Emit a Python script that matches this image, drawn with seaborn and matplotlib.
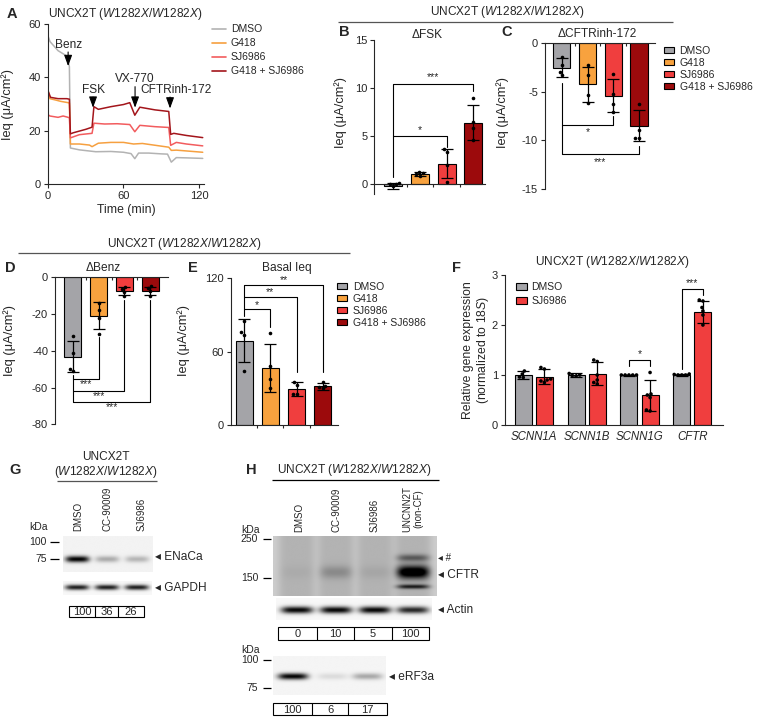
import numpy as np
import pandas as pd
import matplotlib.pyplot as plt
import seaborn as sns
from matplotlib.lines import Line2D
from matplotlib.patches import Patch, Rectangle

W, H = 757, 726

# ---------------- data ----------------
groups = ["DMSO", "G418", "SJ6986", "G418 + SJ6986"]
bar_colors = ["#a4a4a8", "#f8a23e", "#f03e3e", "#9c0a0c"]
line_colors = ["#b3b3b3", "#f6a040", "#f25c5e", "#a3151b"]

# A: Ussing chamber traces (time in min, Ieq in uA/cm2)
t_dmso = [0, 1.6, 8, 13.5, 15.5, 17, 17.8, 25, 38, 50, 60, 66, 69, 72, 80, 90, 95, 98, 102, 110, 123]
i_dmso = [55.5, 53.4, 50, 48.4, 47, 44, 13.5, 12.8, 12.1, 12.2, 11.9, 11.4, 9.5, 11.6, 11.6, 11.3, 11.2, 8.2, 9.9, 9.8, 9.6]
t_g418 = [0, 1.5, 6, 10, 16, 17, 17.8, 25, 33, 35, 40, 50, 60, 68, 75, 90, 96, 98, 102, 123]
i_g418 = [35, 32, 31.5, 31, 30.5, 30.3, 15, 15, 14.6, 14, 15.3, 15.6, 15.6, 15, 15.2, 14.2, 13.8, 12.6, 12.7, 11.9]
t_sj = [0, 1.5, 8, 12, 16, 17, 17.8, 25, 35, 36.5, 45, 55, 65, 69, 73, 85, 96, 97.5, 102, 110, 123]
i_sj = [26, 25.5, 25, 25.5, 25, 24.8, 17.3, 18.5, 19, 22.8, 22.5, 22.6, 22.3, 19.6, 22, 21.5, 21.2, 14.5, 15.6, 15, 14.3]
t_combo = [0, 2, 8, 15, 17, 17.8, 20, 30, 35, 36.5, 40, 50, 60, 65, 69, 73, 85, 96, 97.5, 100, 110, 123]
i_combo = [35, 32.5, 32, 32, 31.8, 18.8, 19.2, 20.5, 21.3, 29, 28, 29, 29.8, 30.5, 25.8, 28.8, 27.8, 27.2, 18.6, 19, 18.2, 17.4]

# B: delta FSK
fsk_mean = [-0.2, 1.0, 2.1, 6.4]
fsk_sd = [0.35, 0.2, 1.5, 1.8]
fsk_pts = [[0.1, 0.05, -0.05, -0.25], [0.85, 1.0, 1.1, 1.25],
           [3.3, 3.6, 2.0, 0.2], [9.0, 6.5, 5.8, 4.6]]

# C: delta CFTRinh-172
inh_mean = [-2.5, -4.2, -5.4, -8.5]
inh_sd = [1.0, 1.8, 1.7, 1.6]
inh_pts = [[-1.4, -2.2, -3.0, -3.3], [-2.2, -3.3, -5.3, -6.1],
           [-3.2, -5.2, -6.3, -7.1], [-6.2, -8.9, -9.7, -9.8]]

# D: delta Benz
benz_mean = [-43.3, -20.9, -7.5, -7.6]
benz_sd = [8.5, 7.3, 2.2, 2.3]
benz_pts = [[-32, -41, -50, -51], [-14, -18, -22, -31],
            [-5.5, -6.5, -8, -10], [-5, -6, -7.5, -10]]

# E: basal Ieq
basal_mean = [69, 46.4, 29.5, 31.5]
basal_sd = [17.5, 19.5, 5.5, 3.0]
basal_pts = [[85, 76, 74, 44], [75, 48, 38, 30], [35, 33, 25, 25], [35, 32, 30, 31]]

# F: qPCR
genes = ["SCNN1A", "SCNN1B", "SCNN1G", "CFTR"]
treatments = ["DMSO", "SJ6986"]
f_colors = ["#a4a4a8", "#f03e3e"]
expr_mean = {"DMSO": [1.0, 1.0, 1.0, 1.01], "SJ6986": [0.97, 1.03, 0.6, 2.26]}
expr_sd = {"DMSO": [0.08, 0.04, 0.01, 0.02], "SJ6986": [0.15, 0.23, 0.31, 0.22]}
expr_pts = {
    "DMSO": [[1.08, 0.95, 1.02, 0.96], [1.03, 1.0, 0.98, 0.99],
             [1.0, 1.0, 1.0, 1.0, 1.0], [1.0, 1.01, 1.0, 1.0, 1.02]],
    "SJ6986": [[1.15, 1.12, 0.92, 0.9, 0.88, 0.85], [1.3, 1.27, 1.0, 0.9, 0.85, 0.82],
               [1.05, 0.6, 0.62, 0.3, 0.28, 0.55], [2.5, 2.48, 2.35, 2.28, 2.2, 2.0]],
}

# G / H: western blot band levels per lane and quantification
g_lanes = ["DMSO", "CC-90009", "SJ6986"]
enac_band = [0.95, 0.28, 0.24]
gapdh_band = [0.85, 0.85, 0.85]
g_quant = ["100", "36", "26"]
h_lanes = ["DMSO", "CC-90009", "SJ6986", "UNCNN2T\n(non-CF)"]
cftr_band = [0.03, 0.16, 0.05, 0.9]
cftr_hash_band = [0.0, 0.0, 0.0, 0.35]
cftr_low_band = [0.0, 0.0, 0.0, 0.6]
actin_band = [0.95, 0.95, 0.95, 0.82]
h_quant = ["0", "10", "5", "100"]
erf3a_band = [0.95, 0.1, 0.3]
erf_quant = ["100", "6", "17"]

# ---------------- style ----------------
sns.set_theme(style="ticks")
plt.rcParams["font.family"] = ["Liberation Sans", "DejaVu Sans"]
plt.rcParams["mathtext.fontset"] = "custom"
plt.rcParams["mathtext.rm"] = "Liberation Sans"
plt.rcParams["mathtext.it"] = "Liberation Sans:italic"
plt.rcParams["axes.unicode_minus"] = False
plt.rcParams["axes.linewidth"] = 0.8
plt.rcParams["xtick.major.width"] = 0.8
plt.rcParams["ytick.major.width"] = 0.8
plt.rcParams["xtick.major.size"] = 3
plt.rcParams["ytick.major.size"] = 3

FS = 8
TS = 8.6
LS = 7.5
ITAL = r"$\mathit{W1282X/W1282X}$"
YL = "Ieq (μA/cm²)"

fig = plt.figure(figsize=(W / 100, H / 100), dpi=100)


def rect(x0, y0, x1, y1):
    return [x0 / W, 1 - y1 / H, (x1 - x0) / W, (y1 - y0) / H]


def new_ax(x0, y0, x1, y1):
    ax = fig.add_axes(rect(x0, y0, x1, y1))
    ax.patch.set_alpha(0)
    sns.despine(ax=ax)
    ax.tick_params(labelsize=FS, pad=2)
    ax.set_xlabel("")
    return ax


def ylab(ax, text, px, py, size=9.3):
    ax.set_ylabel(text, fontsize=size)
    bb = ax.get_position()
    ax.yaxis.set_label_coords((px / W - bb.x0) / bb.width, ((1 - py / H) - bb.y0) / bb.height)


def bars(ax, means, sds, pts):
    sns.barplot(x=groups, y=means, hue=groups, palette=bar_colors, legend=False, saturation=1,
                width=0.67, edgecolor="black", linewidth=0.8, ax=ax, zorder=2)
    ax.errorbar(range(4), means, yerr=sds, fmt="none", ecolor="black",
                elinewidth=0.9, capsize=4, capthick=0.9, zorder=4)
    df = pd.DataFrame([(g, v) for g, vals in zip(groups, pts) for v in vals], columns=["g", "v"])
    sns.swarmplot(data=df, x="g", y="v", order=groups, color="black", size=2.6, ax=ax, zorder=5)
    ax.set_xlabel("")
    ax.set_ylabel("")
    ax.set_xticks([0.5, 1.5, 2.5])
    ax.set_xticklabels([])
    ax.tick_params(axis="x", length=2.5)


def bracket(ax, x1, x2, y, e1, e2, label, ly):
    ax.plot([x1, x1, x2, x2], [e1, y, y, e2], color="black", lw=0.8, clip_on=False, zorder=6)
    ax.text((x1 + x2) / 2, ly, label, ha="center", va="center", fontsize=7.5, clip_on=False)


def patch_legend(ax, x, y):
    ax.legend([Patch(facecolor=c, edgecolor="black", lw=0.8) for c in bar_colors], groups,
              loc="upper left", bbox_to_anchor=(x / W, 1 - y / H), bbox_transform=fig.transFigure,
              frameon=False, fontsize=LS, handlelength=1.0, handleheight=0.6, handletextpad=0.5,
              labelspacing=0.2, borderpad=0, borderaxespad=0)


# ---------------- A ----------------
axA = new_ax(48, 24, 204, 184)
traces = pd.concat([
    pd.DataFrame({"t": t, "ieq": v, "cond": g})
    for t, v, g in zip([t_dmso, t_g418, t_sj, t_combo], [i_dmso, i_g418, i_sj, i_combo], groups)
])
sns.lineplot(data=traces, x="t", y="ieq", hue="cond", hue_order=groups, palette=line_colors,
             estimator=None, sort=False, lw=1.1, legend=False, ax=axA)
axA.set_xlim(0, 124)
axA.set_ylim(0, 60)
axA.set_xticks([0, 60, 120])
axA.set_yticks([0, 20, 40, 60])
axA.set_xlabel("Time (min)", fontsize=8.8, labelpad=2)
ylab(axA, YL, 14, 104)
arrow_kw = dict(arrowstyle="-|>,head_length=0.55,head_width=0.2", color="black", lw=0.8,
                shrinkA=0, shrinkB=0)
for lab, tx, ty, ax_, y0, y1 in [("Benz", 16, 52, 16, 49.5, 44.2),
                                  ("FSK", 35.8, 35.3, 35.8, 32.6, 28.6),
                                  ("VX-770", 69.2, 39.4, 69.2, 36.5, 28.6),
                                  ("CFTRinh-172", 102, 35.3, 97, 32.6, 28.3)]:
    axA.annotate("", xy=(ax_, y1), xytext=(ax_, y0), arrowprops=arrow_kw)
    axA.text(tx, ty, lab, ha="center", va="center", fontsize=TS)
axA.legend([Line2D([], [], color=c, lw=1.2) for c in line_colors], groups,
           loc="upper left", bbox_to_anchor=(212 / W, 1 - 24.5 / H), bbox_transform=fig.transFigure,
           frameon=False, fontsize=LS, handlelength=1.3, handletextpad=0.5,
           labelspacing=0.38, borderpad=0, borderaxespad=0)

# ---------------- B ----------------
axB = new_ax(374.3, 40, 485, 194)
bars(axB, fsk_mean, fsk_sd, fsk_pts)
axB.set_xlim(-0.71, 3.44)
axB.set_ylim(-1.04, 15)
axB.set_yticks([0, 5, 10, 15])
axB.spines["bottom"].set_position(("data", 0))
ylab(axB, YL, 347, 112)
bracket(axB, 0, 2, 5.0, 0.76, 3.9, "*", 5.6)
bracket(axB, 0, 3, 10.4, 5.0, 9.7, "***", 11.1)

# ---------------- C ----------------
axC = new_ax(545, 43.3, 655, 189)
bars(axC, inh_mean, inh_sd, inh_pts)
axC.set_xlim(-0.65, 3.62)
axC.set_ylim(-15, 0)
axC.set_yticks([-15, -10, -5, 0])
axC.spines["bottom"].set_position(("data", 0))
ylab(axC, YL, 509, 112)
bracket(axC, 0, 2, -8.43, -4.1, -7.5, "*", -9.1)
bracket(axC, 0, 3, -11.4, -8.43, -10.6, "***", -12.2)
patch_legend(axC, 664, 45.5)

# ---------------- D ----------------
axD = new_ax(55, 277.3, 168, 424.3)
bars(axD, benz_mean, benz_sd, benz_pts)
axD.set_xlim(-0.69, 3.69)
axD.set_ylim(-80, 0)
axD.set_yticks([-80, -60, -40, -20, 0])
axD.spines["bottom"].set_position(("data", 0))
ylab(axD, YL, 16, 340)
bracket(axD, 0, 1, -55.6, -53.2, -32.4, "***", -58.3)
bracket(axD, 0, 2, -62.0, -55.6, -12.5, "***", -64.7)
bracket(axD, 0, 3, -67.8, -62.0, -12.5, "***", -70.8)

# ---------------- E ----------------
axE = new_ax(230.7, 278.3, 338.3, 425)
bars(axE, basal_mean, basal_sd, basal_pts)
axE.set_xlim(-0.52, 3.6)
axE.set_ylim(0, 120)
axE.set_yticks([0, 60, 120])
ylab(axE, YL, 190, 340)
bracket(axE, 0, 1, 94.7, 89, 80, "*", 98.5)
bracket(axE, 0, 2, 104.5, 94.7, 43, "**", 108.6)
bracket(axE, 0, 3, 114.6, 104.5, 43.6, "**", 118.8)
patch_legend(axE, 337, 281.5)

# ---------------- F ----------------
axF = new_ax(505, 275, 723, 425)
fdf = pd.DataFrame([(g, tr, expr_mean[tr][i]) for i, g in enumerate(genes) for tr in treatments],
                   columns=["gene", "tr", "v"])
sns.barplot(data=fdf, x="gene", y="v", hue="tr", hue_order=treatments, palette=f_colors,
            saturation=1, width=0.8, gap=0.2, edgecolor="black", linewidth=0.8, ax=axF, zorder=2)
for k, tr in enumerate(treatments):
    xs = np.arange(4) + (-0.2 if k == 0 else 0.2)
    axF.errorbar(xs, expr_mean[tr], yerr=expr_sd[tr], fmt="none", ecolor="black",
                 elinewidth=0.9, capsize=4, capthick=0.9, zorder=4)
pdf = pd.DataFrame([(g, tr, v) for tr in treatments for g, vals in zip(genes, expr_pts[tr]) for v in vals],
                   columns=["gene", "tr", "v"])
sns.swarmplot(data=pdf, x="gene", y="v", hue="tr", hue_order=treatments, dodge=True,
              palette=["black", "black"], size=2.6, legend=False, ax=axF, zorder=5)
axF.set_xlim(-0.545, 3.58)
axF.set_ylim(0, 3)
axF.set_yticks([0, 1, 2, 3])
axF.set_xlabel("")
axF.tick_params(axis="x", length=0, pad=4)
for lbl in axF.get_xticklabels():
    lbl.set_fontstyle("italic")
    lbl.set_fontsize(8.3)
axF.set_ylabel("")
bracket(axF, 1.8, 2.2, 1.31, 1.18, 1.18, "*", 1.42)
bracket(axF, 2.8, 3.2, 2.72, 1.12, 2.6, "***", 2.83)
axF.legend(loc="upper left", bbox_to_anchor=(516 / W, 1 - 282 / H), bbox_transform=fig.transFigure,
           frameon=False, fontsize=LS, handlelength=1.1, handleheight=0.6, handletextpad=0.4,
           labelspacing=0.4, borderpad=0, borderaxespad=0)

# ---------------- overlay: titles, labels, blots ----------------
ov = fig.add_axes([0, 0, 1, 1], zorder=10)
ov.axis("off")
ov.set_autoscale_on(False)
ov.set_xlim(0, W)
ov.set_ylim(H, 0)


def T(x, y, s, **kw):
    kw.setdefault("fontsize", TS)
    kw.setdefault("ha", "center")
    kw.setdefault("va", "center")
    ov.text(x, y, s, **kw)


def L(xs, ys, lw=0.9, color="black"):
    ov.plot(xs, ys, color=color, lw=lw, solid_capstyle="butt")


for lab, x, y in [("A", 12, 14), ("B", 344, 32), ("C", 507, 32), ("D", 10.5, 267.5),
                  ("E", 192.5, 267.5), ("F", 456.7, 267.5), ("G", 15, 469.5), ("H", 251, 469.5)]:
    T(x, y, lab, fontsize=10.5, fontweight="bold")

T(48, 13.5, "UNCX2T (" + ITAL + ")", ha="left")
T(507, 12, "UNCX2T (" + ITAL + ")")
L([338, 673], [22, 22], color="#555555")
T(427, 35, "ΔFSK")
T(597, 34, "ΔCFTRinh-172")
T(184, 244.5, "UNCX2T (" + ITAL + ")")
L([18, 350], [253.3, 253.3], color="#555555")
T(103, 268, "ΔBenz")
T(287, 268, "Basal Ieq")
T(612, 262, "UNCX2T (" + ITAL + ")")
T(468, 350, "Relative gene expression", rotation=90, fontsize=8.8)
T(483, 350, "(normalized to $\\mathit{18S}$)", rotation=90, fontsize=8.8)


def blot(x0, x1, y0, y1, lanes, bands, bg=0.06, hw=14, lane_bg=0.0):
    nx, ny = int((x1 - x0) * 3), int((y1 - y0) * 3)
    X, Y = np.meshgrid(np.linspace(x0, x1, nx), np.linspace(y0, y1, ny))
    img = np.full(X.shape, bg)
    for xc in lanes:
        img += lane_bg * np.exp(-((X - xc) / (hw * 1.15)) ** 6)
    for yc, sy, levels in bands:
        for xc, lv in zip(lanes, levels):
            img += lv * np.exp(-((X - xc) / hw) ** 4 - ((Y - yc) / sy) ** 2)
    ov.imshow(np.clip(img, 0, 1), extent=(x0, x1, y1, y0), cmap="gray_r", vmin=0, vmax=1,
              aspect="auto", interpolation="bilinear", zorder=1)


def table(edges, y0, y1, labels):
    ov.add_patch(Rectangle((edges[0], y0), edges[-1] - edges[0], y1 - y0,
                           fill=False, edgecolor="black", lw=0.8))
    for e in edges[1:-1]:
        L([e, e], [y0, y1], lw=0.8)
    for a, b, s in zip(edges[:-1], edges[1:], labels):
        T((a + b) / 2, (y0 + y1) / 2 + 0.5, s, fontsize=8)


def mw_marker(x_text, x0, x1, y, s):
    T(x_text, y, s, ha="right", fontsize=7.5)
    L([x0, x1], [y, y], lw=0.9)


# G
T(106, 457, "UNCX2T")
T(106, 472, "(" + ITAL + ")")
L([57, 157], [481, 481], color="#555555")
g_x = [77, 107, 137]
for x, s in zip([78.3, 107.3, 141.7], g_lanes):
    T(x, 531, s, rotation=90, va="bottom", fontsize=7)
T(38, 526.5, "kDa", fontsize=7.5)
mw_marker(47, 50, 59, 542.3, "100")
mw_marker(47, 50, 59, 559, "75")
blot(62.7, 152.7, 536, 571.7, g_x, [(559, 3.2, enac_band)], bg=0.05, hw=12)
blot(63, 152, 581.7, 595, g_x, [(587.7, 2.6, gapdh_band)], bg=0.03, hw=12)
T(155, 557, "◂ ENaCa", ha="left")
T(155, 588, "◂ GAPDH", ha="left")
table([69.3, 95, 118.3, 144], 605.7, 616.7, g_quant)

# H
T(277, 469.5, "UNCX2T (" + ITAL + ")", ha="left")
L([272.3, 439.3], [480, 480])
h_x = [297, 336, 375, 413]
for x, s in zip([299.3, 336.7, 375, 413], h_lanes):
    T(x, 531.7, s, rotation=90, va="bottom", fontsize=7, multialignment="center")
T(250, 530, "kDa", fontsize=7.5)
mw_marker(258.3, 262.7, 271, 539.3, "250")
mw_marker(258.3, 262.7, 271, 578.3, "150")
blot(273.3, 436.7, 536, 595.7, h_x,
     [(557.7, 3.5, cftr_hash_band), (572, 6.5, cftr_band), (586.5, 2.2, cftr_low_band)],
     bg=0.2, hw=16, lane_bg=0.1)
blot(276, 432, 598, 620, h_x, [(610, 3.6, actin_band)], bg=0.03, hw=16)
T(438, 557.7, "◂ #", ha="left", fontsize=7)
T(438, 575, "◂ CFTR", ha="left")
T(438, 610, "◂ Actin", ha="left")
table([278.3, 316.7, 354, 391.7, 429.3], 626.7, 640, h_quant)
T(250, 650, "kDa", fontsize=7.5)
mw_marker(258.3, 262.7, 271, 660, "100")
mw_marker(258.3, 262.7, 271, 687.7, "75")
blot(272.7, 385, 656.7, 695, [292.5, 332, 366.7], [(676.7, 3.2, erf3a_band)], bg=0.04, hw=15)
T(389, 676.7, "◂ eRF3a", ha="left")
table([272.7, 311.7, 348.3, 386.7], 703.3, 715, erf_quant)

ov.set_xlim(0, W)
ov.set_ylim(H, 0)

fig.savefig("out.png", dpi=100)
